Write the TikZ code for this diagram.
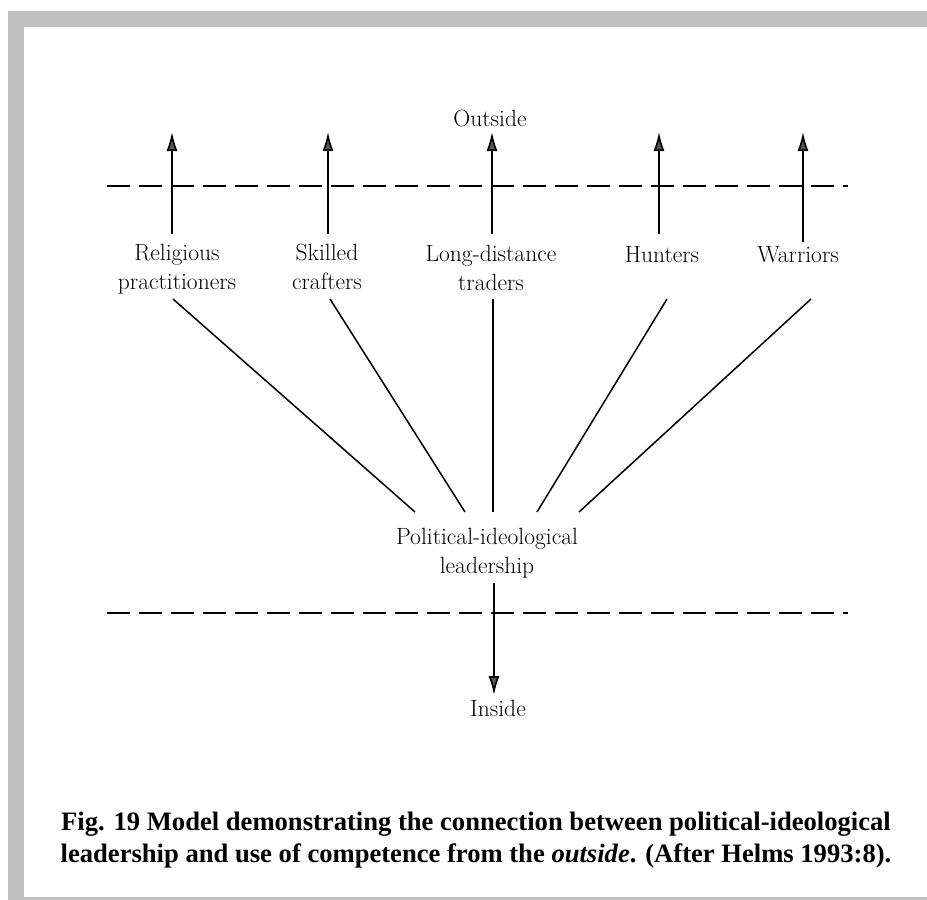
\documentclass[tikz,border=0pt]{standalone}
\usepackage{fontspec}
\newfontfamily\capfont{Liberation Serif}
\usetikzlibrary{arrows.meta}
\definecolor{framegray}{HTML}{C0C0C0}
\definecolor{tipgray}{HTML}{555555}
\begin{document}
\begin{tikzpicture}[x=1pt,y=-1pt,
  lbl/.style={font=\fontsize{23.5}{29}\selectfont, align=center, inner sep=0pt, anchor=base},
  arr/.style={line width=1.6pt, -{Latex[length=19pt,width=11pt,fill=tipgray]}},
  fan/.style={line width=1.5pt},
  dashline/.style={line width=2pt, dash pattern=on 23pt off 9pt},
  capstyle/.style={font=\capfont\bfseries\fontsize{26.6}{32}\selectfont, align=center, anchor=base, inner sep=0pt}]
\useasboundingbox (0,0) rectangle (927,900);
\fill[white] (0,0) rectangle (927,900);
% grey frame
\fill[framegray] (8,11) rectangle (927,27);
\fill[framegray] (8,11) rectangle (24,897);
\fill[framegray] (8,897) rectangle (927,900);

% labels (base anchor = baseline of the last line)
\node[lbl] (outside) at (490,126) {Outside};
\node[lbl] (rel) at (177,289) {Religious\\practitioners};
\node[lbl] (ski) at (327,289) {Skilled\\crafters};
\node[lbl] (lon) at (491,290) {Long-distance\\traders};
\node[lbl] (hun) at (662,262) {Hunters};
\node[lbl] (war) at (798,262) {Warriors};
\node[lbl] (pol) at (487,573) {Political-ideological\\leadership};
\node[lbl] (ins) at (498,716) {Inside};
\node[capstyle] (cap) at (476,862) {Fig. 19 Model demonstrating the connection between political-ideological\\leadership and use of competence from the \textit{outside}. (After Helms 1993:8).};

% dashed boundaries
\coordinate (d1l) at (107,186); \coordinate (d1r) at (848,186);
\coordinate (d2l) at (107,613); \coordinate (d2r) at (848,613);
\draw[dashline] (d1l) -- (d1r);
\draw[dashline] (d2l) -- (d2r);

% upward arrows
\coordinate (relT) at (172,234); \coordinate (relH) at (172,132);
\coordinate (skiT) at (328,234); \coordinate (skiH) at (328,132);
\coordinate (lonT) at (492,234); \coordinate (lonH) at (492,132);
\coordinate (hunT) at (659,234); \coordinate (hunH) at (659,132);
\coordinate (warT) at (803,242); \coordinate (warH) at (803,132);
\draw[arr] (relT) -- (relH);
\draw[arr] (skiT) -- (skiH);
\draw[arr] (lonT) -- (lonH);
\draw[arr] (hunT) -- (hunH);
\draw[arr] (warT) -- (warH);

% fan lines
\coordinate (relF) at (173,299); \coordinate (relP) at (415,512);
\coordinate (skiF) at (330,299); \coordinate (skiP) at (465,512);
\coordinate (lonF) at (493,299); \coordinate (lonP) at (493,512);
\coordinate (hunF) at (667,299); \coordinate (hunP) at (537,512);
\coordinate (warF) at (811,299); \coordinate (warP) at (579,512);
\draw[fan] (relF) -- (relP);
\draw[fan] (skiF) -- (skiP);
\draw[fan] (lonF) -- (lonP);
\draw[fan] (hunF) -- (hunP);
\draw[fan] (warF) -- (warP);

% downward arrow
\coordinate (polT) at (494,583); \coordinate (insH) at (494,695);
\draw[arr] (polT) -- (insH);
\end{tikzpicture}
\end{document}
